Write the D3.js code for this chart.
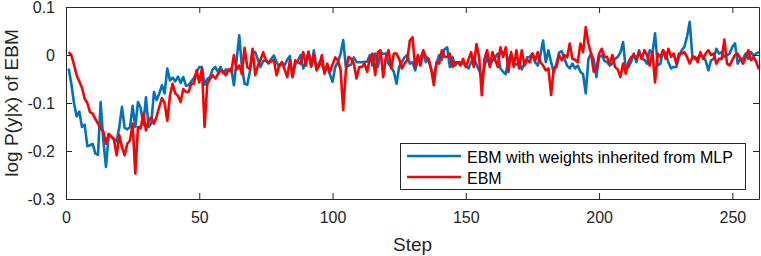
<!DOCTYPE html>
<html>
<head>
<meta charset="utf-8">
<script src="https://cdn.jsdelivr.net/npm/d3@7"></script>
<style>
body { margin: 0; background: #fff; }
svg { display: block; font-family: "Liberation Sans", Arial, Helvetica, sans-serif; }
</style>
</head>
<body>
<svg id="chart" width="761" height="256"></svg>
<script>
// log P(y|x) per step
const blue = [
  -0.028, -0.060, -0.100, -0.128, -0.118, -0.150, -0.145, -0.190, -0.188, -0.185,
  -0.205, -0.208, -0.098, -0.178, -0.233, -0.167, -0.170, -0.175, -0.180, -0.150,
  -0.108, -0.152, -0.155, -0.150, -0.106, -0.150, -0.098, -0.110, -0.145, -0.088,
  -0.150, -0.142, -0.077, -0.094, -0.080, -0.063, -0.080, -0.028, -0.053, -0.047,
  -0.055, -0.045, -0.058, -0.046, -0.064, -0.063, -0.055, -0.048, -0.036, -0.025,
  -0.025, -0.062, -0.050, -0.046, -0.030, -0.025, -0.035, -0.025, -0.038, -0.030,
  -0.033, -0.028, -0.063, -0.011, 0.041, -0.025, -0.060, -0.062, -0.035, 0.006,
  0.006, -0.010, -0.025, -0.012, -0.012, -0.018, -0.008, -0.001, -0.015, -0.025,
  -0.015, -0.022, -0.010, -0.002, -0.046, -0.020, -0.012, 0.000, -0.028, -0.015,
  0.007, -0.025, 0.010, -0.028, -0.015, -0.020, -0.035, -0.025, -0.040, -0.056,
  -0.025, -0.015, 0.002, 0.031, -0.025, -0.022, -0.020, -0.005, -0.015, -0.015,
  -0.015, -0.014, -0.014, 0.000, -0.022, 0.003, -0.025, 0.006, 0.002, 0.003,
  -0.018, -0.025, -0.035, -0.060, -0.025, -0.015, -0.005, 0.000, -0.018, -0.015,
  -0.032, -0.010, -0.005, 0.006, -0.015, -0.008, -0.030, -0.046, -0.018, 0.000,
  -0.010, 0.012, 0.016, -0.025, -0.004, -0.022, -0.015, -0.015, -0.018, -0.022,
  -0.028, -0.015, -0.004, -0.020, -0.032, -0.046, -0.025, -0.004, -0.022, -0.012,
  -0.005, 0.003, -0.028, -0.035, -0.040, -0.008, 0.000, -0.018, -0.020, -0.015,
  -0.030, -0.018, -0.005, -0.004, 0.003, -0.015, -0.022, 0.000, 0.030, -0.015,
  0.010, -0.015, -0.036, -0.018, 0.005, 0.008, -0.008, -0.022, -0.028, -0.018,
  -0.028, -0.022, -0.035, -0.040, -0.080, -0.008, 0.003, -0.010, -0.046, -0.004,
  -0.001, -0.012, -0.015, -0.022, -0.018, -0.008, -0.004, 0.005, 0.027, -0.028,
  -0.025, -0.015, 0.003, -0.015, 0.010, -0.008, -0.010, -0.018, 0.010, 0.003,
  0.045, -0.022, -0.018, 0.010, 0.003, -0.015, -0.028, -0.025, -0.025, -0.004,
  0.010, 0.017, 0.038, 0.069, -0.003, -0.008, -0.006, 0.000, -0.003, -0.012,
  -0.032, -0.011, -0.008, 0.013, 0.003, 0.006, -0.004, 0.000, 0.003, 0.017,
  0.024, -0.018, -0.008, -0.008, 0.003, -0.008, 0.006, -0.001, 0.003, 0.006
];
const red = [
  0.006, 0.000, -0.020, -0.042, -0.055, -0.068, -0.091, -0.100, -0.119, -0.122,
  -0.133, -0.143, -0.153, -0.160, -0.185, -0.164, -0.170, -0.176, -0.209, -0.167,
  -0.192, -0.209, -0.185, -0.178, -0.143, -0.247, -0.150, -0.153, -0.122, -0.157,
  -0.136, -0.130, -0.143, -0.128, -0.108, -0.090, -0.100, -0.137, -0.085, -0.060,
  -0.080, -0.085, -0.098, -0.071, -0.077, -0.077, -0.060, -0.060, -0.032, -0.057,
  -0.028, -0.150, -0.060, -0.050, -0.042, -0.049, -0.040, -0.032, -0.035, -0.042,
  -0.030, -0.035, 0.000, -0.030, -0.022, -0.040, 0.015, -0.025, -0.030, 0.013,
  -0.042, -0.022, -0.010, 0.006, -0.011, -0.015, -0.013, -0.011, -0.042, -0.022,
  -0.015, -0.030, -0.046, -0.011, -0.046, -0.011, -0.015, -0.018, 0.006, -0.022,
  0.006, -0.022, 0.000, -0.032, -0.022, 0.000, -0.039, -0.018, -0.035, -0.020,
  -0.005, -0.011, -0.030, -0.115, -0.032, -0.004, -0.008, -0.018, -0.049, -0.025,
  -0.025, -0.018, -0.035, -0.008, 0.003, -0.042, 0.006, 0.010, -0.046, -0.004,
  0.010, -0.028, 0.003, 0.003, -0.008, -0.028, -0.018, -0.011, 0.030, 0.037,
  -0.025, 0.000, -0.022, 0.010, -0.004, -0.008, -0.030, -0.063, -0.015, -0.018,
  0.010, -0.004, -0.004, 0.003, -0.025, -0.015, -0.015, -0.022, -0.008, -0.025,
  -0.010, 0.006, -0.025, 0.023, -0.004, -0.084, -0.008, 0.010, -0.025, 0.006,
  -0.010, -0.025, 0.016, -0.004, 0.016, -0.035, 0.006, -0.025, 0.010, -0.028,
  0.010, -0.022, -0.010, -0.015, 0.003, -0.012, 0.006, -0.015, -0.022, -0.032,
  -0.028, -0.083, -0.028, -0.025, 0.000, -0.011, 0.000, -0.005, 0.024, -0.008,
  -0.010, -0.015, 0.024, 0.006, 0.058, 0.024, 0.003, -0.035, -0.028, 0.003,
  0.013, -0.004, -0.004, -0.018, 0.000, -0.025, -0.030, -0.046, -0.018, -0.039,
  -0.015, -0.005, 0.000, -0.008, 0.006, -0.008, 0.010, 0.000, -0.022, 0.006,
  -0.057, 0.003, -0.004, 0.010, -0.008, 0.013, -0.004, 0.003, -0.018, 0.003,
  0.003, 0.006, -0.004, -0.018, -0.004, -0.004, -0.015, 0.006, -0.008, 0.003,
  0.010, 0.000, 0.003, -0.018, -0.008, -0.008, 0.032, -0.018, -0.022, -0.010,
  0.000, 0.003, -0.008, -0.018, -0.005, 0.010, -0.011, -0.004, -0.015, -0.030
];
const xTicks = [0, 50, 100, 150, 200, 250];
const yTicks = [-0.3, -0.2, -0.1, 0, 0.1];
const seriesNames = ['EBM with weights inherited from MLP', 'EBM'];
const seriesColors = ['#0072BD', '#FF0000'];

const W = 761, H = 256;
const margin = {top: 7, right: 2, bottom: 57, left: 66};
const width = W - margin.left - margin.right,
      height = H - margin.top - margin.bottom;
const axisColor = '#262626';

const svg = d3.select('#chart');
const g = svg.append('g').attr('transform', 'translate(' + margin.left + ',' + margin.top + ')');

const x = d3.scaleLinear().domain([0, 260]).range([0, width]);
const y = d3.scaleLinear().domain([-0.3, 0.1]).range([height, 0]);

g.append('clipPath').attr('id', 'clip')
  .append('rect').attr('width', width).attr('height', height);

// lines (step index starts at 1)
const line = d3.line()
  .x(function(d, i) { return x(i + 1); })
  .y(function(d) { return y(d); });

[blue, red].forEach(function(s, k) {
  g.append('path')
    .attr('clip-path', 'url(#clip)')
    .attr('d', line(s))
    .attr('fill', 'none')
    .attr('stroke', seriesColors[k])
    .attr('stroke-width', 2.6)
    .attr('stroke-linejoin', 'round');
});

const fmtY = function(d) { return d === 0 ? '0' : d.toFixed(1); };

// axes, MATLAB style: inward ticks on all sides
const xb = g.append('g').attr('transform', 'translate(0,' + height + ')')
  .call(d3.axisBottom(x).tickValues(xTicks).tickSizeInner(-6).tickSizeOuter(0).tickPadding(13));
const xt = g.append('g')
  .call(d3.axisTop(x).tickValues(xTicks).tickSizeInner(-6).tickSizeOuter(0).tickFormat(''));
const yl = g.append('g')
  .call(d3.axisLeft(y).tickValues(yTicks).tickSizeInner(-6).tickSizeOuter(0).tickPadding(11).tickFormat(fmtY));
const yr = g.append('g').attr('transform', 'translate(' + width + ',0)')
  .call(d3.axisRight(y).tickValues(yTicks).tickSizeInner(-6).tickSizeOuter(0).tickFormat(''));

[xb, xt, yl, yr].forEach(function(a) {
  a.selectAll('path, line').attr('stroke', axisColor);
  a.selectAll('text').attr('fill', axisColor).style('font-size', '16px')
    .style('font-family', '"Liberation Sans", Arial, sans-serif');
});

// axis labels
g.append('text')
  .attr('x', width / 2).attr('y', 244)
  .attr('text-anchor', 'middle')
  .attr('fill', axisColor)
  .style('font-size', '19px')
  .text('Step');

svg.append('text')
  .attr('transform', 'translate(18,' + (margin.top + height / 2) + ') rotate(-90)')
  .attr('text-anchor', 'middle')
  .attr('fill', axisColor)
  .style('font-size', '19px')
  .text('log P(y|x) of EBM');

// legend
const lg = svg.append('g').attr('transform', 'translate(400.5,143.5)');
lg.append('rect').attr('width', 345).attr('height', 46)
  .attr('fill', '#fff').attr('stroke', axisColor).attr('stroke-width', 1);
seriesNames.forEach(function(name, k) {
  const yy = 12.5 + k * 21;
  lg.append('line')
    .attr('x1', 6.5).attr('x2', 60.5).attr('y1', yy).attr('y2', yy)
    .attr('stroke', seriesColors[k]).attr('stroke-width', 2.6);
  lg.append('text')
    .attr('x', 66.5).attr('y', yy + 6.5)
    .attr('fill', '#000')
    .style('font-size', '16px')
    .text(name);
});
</script>
</body>
</html>
